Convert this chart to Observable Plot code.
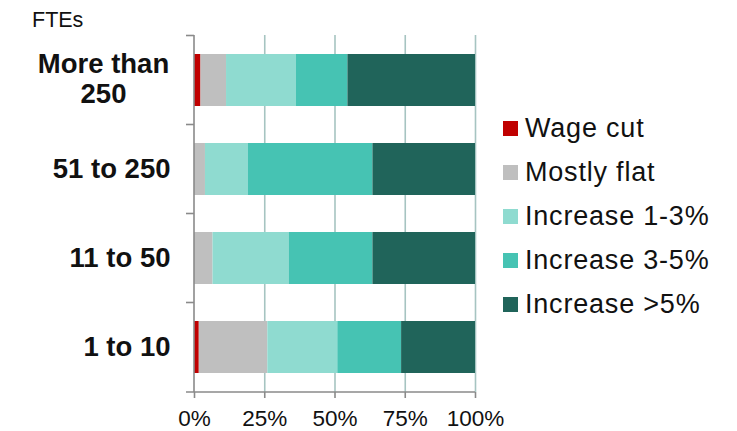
<!DOCTYPE html>
<html>
<head>
<meta charset="utf-8">
<script src="https://cdn.jsdelivr.net/npm/d3@7"></script>
<script src="https://cdn.jsdelivr.net/npm/@observablehq/plot@0.6"></script>
<style>
  html, body { margin: 0; padding: 0; background: #fff; }
  #wrap { position: relative; width: 737px; height: 431px; font-family: "Liberation Sans", Arial, sans-serif; }
  #unit { position: absolute; left: 32px; top: 10px; font-size: 21.5px; line-height: 21px; color: #111; }
  #legend { position: absolute; left: 503px; top: 106px; }
  .item { display: flex; align-items: center; height: 44px; font-size: 27px; letter-spacing: 0.8px; color: #111; white-space: nowrap; }
  .sw { width: 15px; height: 15px; margin-right: 7px; flex: none; }
</style>
</head>
<body>
<div id="wrap">
  <div id="chart"></div>
  <div id="unit">FTEs</div>
  <div id="legend"></div>
</div>
<script>
const categories = ["More than 250", "51 to 250", "11 to 50", "1 to 10"];
const series = ["Wage cut", "Mostly flat", "Increase 1-3%", "Increase 3-5%", "Increase >5%"];
const wageCut = [2.3, 0, 0, 1.7];
const mostlyFlat = [9.1, 3.9, 6.6, 24.4];
const increase1to3 = [24.9, 15.3, 27.2, 24.9];
const increase3to5 = [18.3, 44.3, 29.7, 22.7];
const increaseOver5 = [45.4, 36.5, 36.5, 26.3];
const xTicks = [0, 25, 50, 75, 100];
const colors = ["#c00000", "#bfbfbf", "#8fdbd0", "#46c3b3", "#20645a"];

const seriesValues = [wageCut, mostlyFlat, increase1to3, increase3to5, increaseOver5];
const rows = [];
categories.forEach((c, i) => {
  series.forEach((s, j) => rows.push({size: c, band: s, value: seriesValues[j][i]}));
});

const labelFormat = d => d === "More than 250" ? "More than\n250" : d;

function axisFrame(index, scales, values, dims) {
  const y = scales.y, x = scales.x;
  const top = dims.marginTop, bottom = dims.height - dims.marginBottom;
  const step = y.step ? y.step() : (bottom - top) / categories.length;
  const bw = y.bandwidth ? y.bandwidth() : step * 0.583;
  const g = d3.create("svg:g").attr("stroke", "#8a8a8a").attr("stroke-width", 1.6).attr("fill", "none");
  const x0 = x(0);
  g.append("line").attr("x1", x0).attr("x2", x0).attr("y1", top).attr("y2", bottom);
  categories.forEach(c => {
    const yb = y(c) - (step - bw) / 2;
    g.append("line").attr("x1", x0 - 8).attr("x2", x0).attr("y1", yb).attr("y2", yb);
  });
  g.append("line").attr("x1", x0 - 8).attr("x2", x(100)).attr("y1", bottom).attr("y2", bottom);
  return g.node();
}

const chart = Plot.plot({
  width: 737,
  height: 431,
  marginLeft: 194,
  marginRight: 262,
  marginTop: 35,
  marginBottom: 39,
  style: {fontFamily: "Liberation Sans, Arial, sans-serif", color: "#111", background: "#fff"},
  x: {domain: [0, 100]},
  y: {domain: categories, paddingInner: 0.417, paddingOuter: 0.2085},
  color: {domain: series, range: colors},
  marks: [
    Plot.gridX(xTicks.filter(t => t > 0), {stroke: "#a6c4c1", strokeOpacity: 1, strokeWidth: 1.6}),
    Plot.barX(rows, {y: "size", x: "value", fill: "band"}),
    axisFrame,
    Plot.axisX({ticks: xTicks, tickFormat: d => d + "%", tickSize: 6, tickPadding: 12, fontSize: 22.5, stroke: "#8a8a8a", strokeWidth: 1.6, label: null}),
    Plot.axisY({ticks: categories.filter(c => c !== "More than 250"), tickSize: 0, tickPadding: 24, fontSize: 27.5, fontWeight: "bold", label: null}),
    Plot.axisY({ticks: ["More than 250"], tickFormat: labelFormat, tickSize: 0, tickPadding: 24, textAnchor: "middle", dx: -67, dy: -2, lineHeight: 1.1, fontSize: 27.5, fontWeight: "bold", label: null})
  ]
});
document.getElementById("chart").appendChild(chart);

const legend = document.getElementById("legend");
series.forEach((s, i) => {
  const item = document.createElement("div");
  item.className = "item";
  const sw = document.createElement("span");
  sw.className = "sw";
  sw.style.background = colors[i];
  const t = document.createElement("span");
  t.textContent = s;
  item.appendChild(sw);
  item.appendChild(t);
  legend.appendChild(item);
});
</script>
</body>
</html>
